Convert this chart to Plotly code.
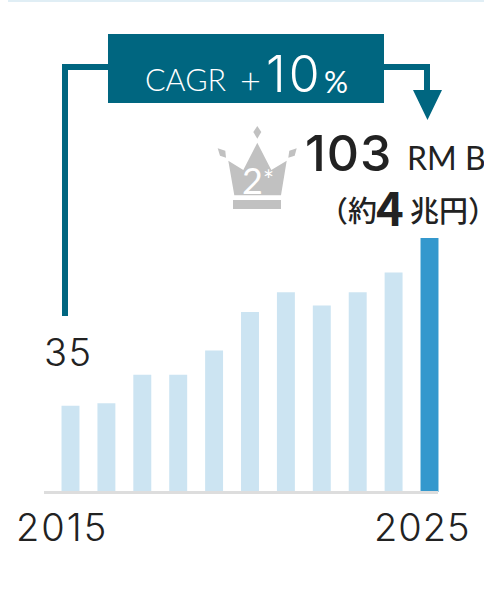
import plotly.graph_objects as go

years = list(range(2015, 2026))
values = [35, 36, 47.5, 47.5, 57.4, 73, 81, 75.6, 81, 89, 103]
bar_colors = ["#cce4f2"] * 10 + ["#3498cd"]
W, H = 484, 603
TEAL = "#006680"
GREY = "#c1c1c1"
INK = "#222222"
LATIN = "Lato, 'Noto Sans', sans-serif"
NUM = "Inter, Lato, sans-serif"
CJK = "'Noto Sans CJK JP', sans-serif"

def X(x): return x / W
def Y(y): return 1 - y / H

def poly(points, color):
    d = "M" + " L".join(f"{X(a):.5f},{Y(b):.5f}" for a, b in points) + " Z"
    return dict(type="path", xref="paper", yref="paper", path=d,
                fillcolor=color, line=dict(width=0), layer="above")

shapes = [
    poly([(8, 0), (484, 0), (484, 2), (8, 2)], "#e0eef5"),
    poly([(44, 491), (438, 491), (438, 494), (44, 494)], "#dddddd"),
    poly([(62, 316), (62, 64), (108, 64), (108, 70), (68, 70), (68, 316)], TEAL),
    poly([(108, 34), (384, 34), (384, 103), (108, 103)], TEAL),
    poly([(384, 64), (430, 64), (430, 90), (442, 90), (427.5, 120), (413, 90),
          (424, 90), (424, 70), (384, 70)], TEAL),
    poly([(257.3, 126), (261.3, 132), (257.3, 138.7), (253.3, 132)], GREY),
    poly([(217.7, 148.3), (225.3, 150.7), (226, 157.7), (220, 155.7)], GREY),
    poly([(296.7, 148.3), (289.3, 150.7), (288.3, 157.7), (294.7, 155.7)], GREY),
    poly([(257.3, 142.7), (271.3, 170), (286.7, 160.7), (281, 195.3), (234.3, 195.3),
          (228.3, 160.7), (243.3, 170)], GREY),
    poly([(233, 200), (281, 200), (281, 209), (233, 209)], GREY),
]

def label(text, x, y, size, color=INK, font=LATIN, anchor="left", weight=400, spacing=0):
    if spacing:
        text = f'<span style="letter-spacing:{spacing}px">{text}</span>'
    return dict(text=text, x=X(x), y=Y(y), xref="paper", yref="paper", showarrow=False,
                xanchor=anchor, yanchor="middle",
                font=dict(size=size, color=color, family=font, weight=weight))

annotations = [
    label("CAGR", 143, 79, 30.5, "#ffffff", weight=300),
    label("+", 238, 80, 36, "#ffffff", weight=300),
    label("10", 264, 74, 50, "#ffffff", font=NUM, weight=300, spacing=3),
    label("%", 322, 81, 30, "#ffffff"),
    label("103", 303, 153, 50, font=NUM, weight=500, spacing=1),
    label("RM B", 405, 158, 32),
    label("（約", 317, 209, 29, font=CJK, weight=500),
    label("4", 374, 205, 47, font=CJK, weight=700),
    label("兆円）", 408, 209, 29, font=CJK, weight=500),
    label("2", 252.5, 180, 36, "#ffffff", anchor="center"),
    label("*", 268.5, 180, 26, "#ffffff", anchor="center"),
    label("35", 42, 352, 38, font=NUM, weight=300, spacing=1.5),
    label("2015", 62, 527, 38, font=NUM, anchor="center", weight=300, spacing=2),
    label("2025", 422, 527, 38, font=NUM, anchor="center", weight=300, spacing=1),
]

fig = go.Figure(go.Bar(x=years, y=values, width=0.5, marker=dict(color=bar_colors, line=dict(width=0))))
step = 35.9
px_per_unit = 2.466
fig.update_layout(
    width=W, height=H, margin=dict(l=0, r=0, t=0, b=0), autosize=False,
    paper_bgcolor="#ffffff", plot_bgcolor="#ffffff", showlegend=False,
    xaxis=dict(range=[2015 - 70.5 / step, 2015 + (W - 70.5) / step], visible=False, fixedrange=True),
    yaxis=dict(range=[(492 - H) / px_per_unit, 492 / px_per_unit], visible=False, fixedrange=True),
    shapes=shapes, annotations=annotations,
)
fig.write_html("out.html", config=dict(displayModeBar=False),
               post_script="document.body.style.margin='0';document.documentElement.style.overflow='hidden';")
